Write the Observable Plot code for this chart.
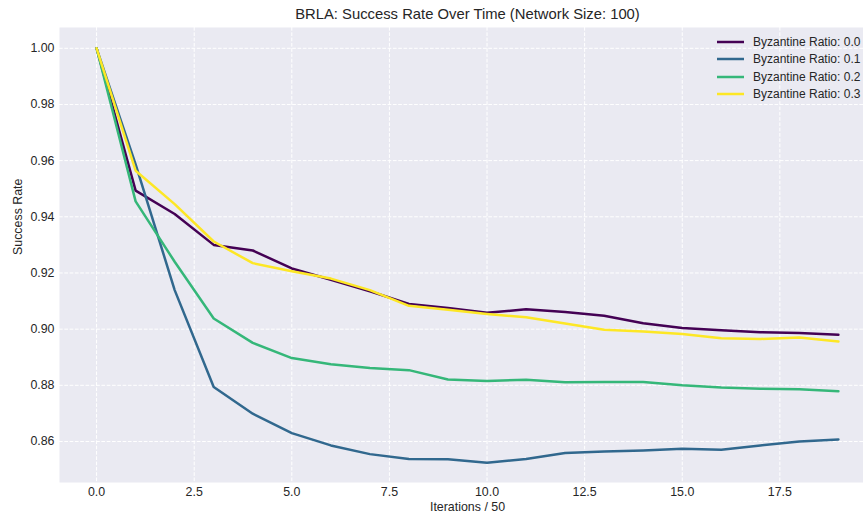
<!DOCTYPE html>
<html><head><meta charset="utf-8">
<script src="https://cdn.jsdelivr.net/npm/d3@7"></script>
<script src="https://cdn.jsdelivr.net/npm/@observablehq/plot@0.6"></script>
<style>
html,body{margin:0;padding:0;background:#fff;overflow:hidden;width:863px;height:514px}
#wrap{position:relative;width:863px;height:514px;overflow:hidden}
#wrap > svg{display:block;max-width:none !important;width:880px;height:514px}
#legend{position:absolute;left:717px;top:33px;font-family:"Liberation Sans",Arial,sans-serif;font-size:12px;color:#262626;white-space:nowrap}
.row{display:flex;align-items:center;height:17.5px}
.sw{width:27px;height:6px;margin-right:9px;flex:none;display:block}
</style></head><body><div id="wrap"><div id="legend"></div></div>
<script>
const iterations = [0,1,2,3,4,5,6,7,8,9,10,11,12,13,14,15,16,17,18,19];
const seriesNames = ["Byzantine Ratio: 0.0","Byzantine Ratio: 0.1","Byzantine Ratio: 0.2","Byzantine Ratio: 0.3"];
const ratio00 = [1.000,0.9493,0.9410,0.9300,0.9280,0.9216,0.9176,0.9135,0.9090,0.9075,0.9058,0.9071,0.9061,0.9048,0.9021,0.9004,0.8996,0.8989,0.8986,0.8980];
const ratio01 = [1.000,0.9587,0.9139,0.8794,0.8699,0.8630,0.8586,0.8555,0.8538,0.8537,0.8524,0.8538,0.8559,0.8564,0.8568,0.8574,0.8571,0.8586,0.8600,0.8607];
const ratio02 = [1.000,0.9455,0.9240,0.9038,0.8951,0.8897,0.8875,0.8862,0.8854,0.8821,0.8815,0.8820,0.8811,0.8812,0.8812,0.8800,0.8792,0.8788,0.8786,0.8779];
const ratio03 = [1.000,0.9564,0.9445,0.9312,0.9235,0.9206,0.9180,0.9139,0.9083,0.9069,0.9054,0.9042,0.9020,0.8998,0.8992,0.8983,0.8968,0.8965,0.8970,0.8956];
const colors = ["#440154","#31688e","#35b779","#fde725"];
const xTicks = [0,2.5,5,7.5,10,12.5,15,17.5];
const yTicks = [0.86,0.88,0.90,0.92,0.94,0.96,0.98,1.00];
const title = "BRLA: Success Rate Over Time (Network Size: 100)";
const xLabel = "Iterations / 50";
const yLabel = "Success Rate";

const allSeries = [ratio00, ratio01, ratio02, ratio03];
const rows = [];
allSeries.forEach((vals, s) => vals.forEach((v, i) => rows.push({series: seriesNames[s], x: iterations[i], y: v})));

const font = "Liberation Sans, Arial, sans-serif";
const gridStyle = {stroke: "white", strokeOpacity: 1, strokeWidth: 1, strokeDasharray: "3.7,1.6"};

const chart = Plot.plot({
  width: 880, height: 514,
  marginLeft: 59, marginRight: 5, marginTop: 27, marginBottom: 32,
  style: {fontFamily: font, fontSize: "12.4px", color: "#262626", background: "transparent", overflow: "visible", maxWidth: "none"},
  x: {domain: [-0.95, 19.95], label: null},
  y: {domain: [0.8454, 1.0074], label: null},
  color: {domain: seriesNames, range: colors},
  marks: [
    Plot.frame({fill: "#EAEAF2", stroke: null}),
    Plot.gridX(xTicks, gridStyle),
    Plot.gridY(yTicks, gridStyle),
    Plot.line(rows, {x: "x", y: "y", z: "series", stroke: "series", strokeWidth: 2.5}),
    Plot.axisX(xTicks, {tickSize: 0, tickPadding: 5, tickFormat: d => d.toFixed(1), label: null, fill: "#262626"}),
    Plot.axisY(yTicks, {tickSize: 0, tickPadding: 5, tickFormat: d => d.toFixed(2), label: null, fill: "#262626"}),
    Plot.text([title], {text: d => d, frameAnchor: "top", lineAnchor: "middle", dy: -13, fontSize: 14.8, fill: "#262626"}),
    Plot.text([xLabel], {text: d => d, frameAnchor: "bottom", lineAnchor: "middle", dy: 25, fontSize: 12.4, fill: "#262626"}),
    Plot.text([yLabel], {text: d => d, frameAnchor: "left", lineAnchor: "middle", dx: -41, rotate: -90, fontSize: 12.4, fill: "#262626"})
  ]
});
const wrap = document.getElementById("wrap");
wrap.insertBefore(chart, wrap.firstChild);

const NS = "http://www.w3.org/2000/svg";
const legend = document.getElementById("legend");
seriesNames.forEach((name, i) => {
  const row = document.createElement("div");
  row.className = "row";
  const sw = document.createElementNS(NS, "svg");
  sw.setAttribute("class", "sw");
  sw.setAttribute("width", "27");
  sw.setAttribute("height", "6");
  const ln = document.createElementNS(NS, "line");
  ln.setAttribute("x1", "0"); ln.setAttribute("x2", "27");
  ln.setAttribute("y1", "3"); ln.setAttribute("y2", "3");
  ln.setAttribute("stroke", colors[i]);
  ln.setAttribute("stroke-width", "2.5");
  sw.appendChild(ln);
  const label = document.createElement("span");
  label.textContent = name;
  row.appendChild(sw);
  row.appendChild(label);
  legend.appendChild(row);
});
</script>
</body></html>
